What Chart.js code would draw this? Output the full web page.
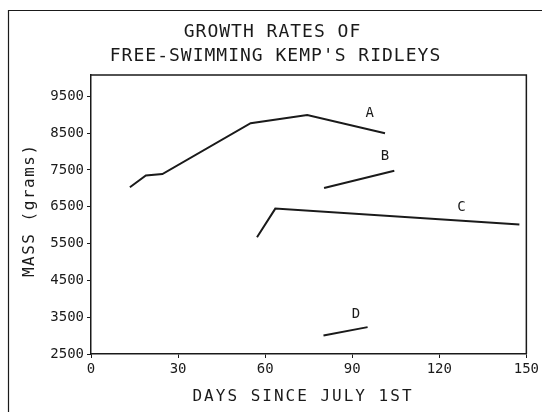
<!DOCTYPE html>
<html>
<head>
<meta charset="utf-8">
<script src="https://cdn.jsdelivr.net/npm/chart.js@4.4.1/dist/chart.umd.min.js"></script>
<style>
  html, body { margin: 0; padding: 0; background: #fff; }
</style>
</head>
<body>
<canvas id="growth" width="542" height="412"></canvas>
<script>
// days since July 1st / mass in grams, one pair of arrays per turtle
const aDays = [13.4, 18.9, 24.6, 55, 74.5, 101.3];
const aMass = [7030, 7350, 7390, 8770, 8990, 8500];
const bDays = [80.3, 104.5];
const bMass = [7010, 7480];
const cDays = [57.2, 63.5, 147.6];
const cMass = [5670, 6450, 6020];
const dDays = [80.1, 95.3];
const dMass = [3000, 3230];

// letter for each curve, placed in data units
const turtleNames = ['A', 'B', 'C', 'D'];
const nameDays = [96, 101.3, 127.6, 91.3];
const nameMass = [9050, 7870, 6490, 3570];

const xTicks = [0, 30, 60, 90, 120, 150];
const yTicks = [2500, 3500, 4500, 5500, 6500, 7500, 8500, 9500];

const titleLines = ['GROWTH RATES OF', "FREE-SWIMMING KEMP'S RIDLEYS"];
const xTitle = 'DAYS SINCE JULY 1ST';
const yTitle = 'MASS (grams)';

const FONT = "'DejaVu Sans Mono', monospace";
const INK = '#1a1a1a';

const toPoints = (days, mass) => days.map((d, i) => ({ x: d, y: mass[i] }));

const line = (label, days, mass) => ({
  label: label,
  data: toPoints(days, mass),
  borderColor: INK,
  borderWidth: 2,
  pointRadius: 0,
  tension: 0,
  fill: false
});

// spaced-out plotter style text
function spacedText(ctx, text, x, y, size, spacing) {
  ctx.font = size + 'px ' + FONT;
  ctx.letterSpacing = spacing + 'px';
  ctx.textAlign = 'center';
  ctx.textBaseline = 'middle';
  ctx.fillText(text, x + spacing / 2, y);
  ctx.letterSpacing = '0px';
}

// frame, box around the plot, titles and the curve letters
const decorations = {
  id: 'decorations',
  afterDraw(chart) {
    const { ctx, chartArea: a, scales: { x, y } } = chart;
    ctx.save();
    ctx.strokeStyle = INK;
    ctx.fillStyle = INK;

    ctx.lineWidth = 1.5;
    ctx.beginPath();
    ctx.moveTo(a.left, a.top);
    ctx.lineTo(a.right, a.top);
    ctx.lineTo(a.right, a.bottom);
    ctx.stroke();

    ctx.lineWidth = 1.2;
    ctx.beginPath();
    ctx.moveTo(8.5, chart.height);
    ctx.lineTo(8.5, 10.5);
    ctx.lineTo(chart.width, 10.5);
    ctx.stroke();

    spacedText(ctx, titleLines[0], 272, 32, 18, 1);
    spacedText(ctx, titleLines[1], 275, 56, 18, 1);
    spacedText(ctx, xTitle, 302, 397, 16, 2);

    ctx.save();
    ctx.translate(30, 211);
    ctx.rotate(-Math.PI / 2);
    spacedText(ctx, yTitle, 0, 0, 16, 1.5);
    ctx.restore();

    ctx.font = '14px ' + FONT;
    ctx.textAlign = 'center';
    ctx.textBaseline = 'middle';
    turtleNames.forEach((n, i) => {
      ctx.fillText(n, x.getPixelForValue(nameDays[i]), y.getPixelForValue(nameMass[i]));
    });
    ctx.restore();
  }
};

const axisStyle = {
  grid: { display: true, drawOnChartArea: false, drawTicks: true, tickLength: 4, color: INK, lineWidth: 1 },
  border: { display: true, color: INK, width: 1.5 },
  ticks: {
    color: INK,
    font: { family: FONT, size: 14 },
    padding: 3,
    autoSkip: false,
    maxRotation: 0,
    callback: v => String(v)
  }
};

new Chart(document.getElementById('growth'), {
  type: 'line',
  data: {
    datasets: [
      line('A', aDays, aMass),
      line('B', bDays, bMass),
      line('C', cDays, cMass),
      line('D', dDays, dMass)
    ]
  },
  options: {
    responsive: false,
    animation: false,
    devicePixelRatio: 1,
    layout: { padding: { top: 75, right: 14, bottom: 0, left: 0 } },
    plugins: {
      legend: { display: false },
      title: { display: false },
      tooltip: { enabled: false }
    },
    scales: {
      x: {
        type: 'linear',
        min: 0,
        max: 150,
        ...axisStyle,
        afterBuildTicks: s => { s.ticks = xTicks.map(v => ({ value: v })); },
        afterFit: s => { s.height = 58; }
      },
      y: {
        type: 'linear',
        min: 2500,
        max: 10080,
        ...axisStyle,
        afterBuildTicks: s => { s.ticks = yTicks.map(v => ({ value: v })); },
        afterFit: s => { s.width = 91; }
      }
    }
  },
  plugins: [decorations]
});
</script>
</body>
</html>
